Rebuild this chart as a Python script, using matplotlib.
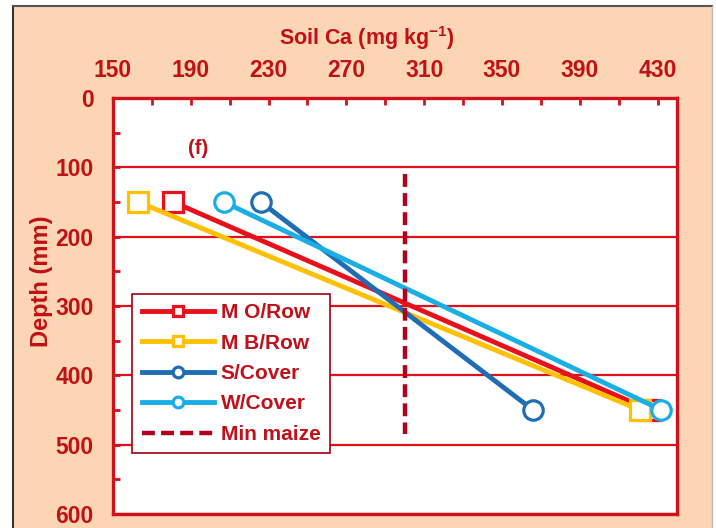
import matplotlib
matplotlib.use("Agg")
import matplotlib.pyplot as plt
from matplotlib.patches import Rectangle
from matplotlib.lines import Line2D

plt.rcParams['font.family'] = ['Liberation Sans', 'DejaVu Sans']
plt.rcParams['mathtext.fontset'] = 'custom'
plt.rcParams['mathtext.rm'] = 'Liberation Sans'
plt.rcParams['mathtext.bf'] = 'Liberation Sans:bold'

# ---- data ----
depth = [150, 450]
series_names = ["M O/Row", "M B/Row", "S/Cover", "W/Cover"]
m_orow = [181, 426]
m_brow = [163, 421]
s_cover = [226, 366]
w_cover = [207, 432]
min_maize_x = [300, 300]
min_maize_depth = [110, 485]
x_ticks_labeled = [150, 190, 230, 270, 310, 350, 390, 430]
x_ticks_minor = [170, 210, 250, 290, 330, 370, 410]
y_ticks = [0, 100, 200, 300, 400, 500, 600]
y_ticks_minor = [50, 150, 250, 350, 450, 550]

TXT = '#C0101A'
SPINE = '#D0101A'

fig = plt.figure(figsize=(7.16, 5.28), dpi=100)
fig.patch.set_facecolor('white')
W, H = 716, 528
fig.add_artist(Rectangle((13 / W, 0), (712 - 13) / W, (H - 6) / H,
                         transform=fig.transFigure, facecolor='#FCD5B4',
                         edgecolor='none', zorder=-10))
fig.add_artist(Line2D([13 / W, 13 / W], [0, 1 - 6 / H], transform=fig.transFigure,
                      color='#333333', lw=1.5))
fig.add_artist(Line2D([13 / W, 712 / W], [1 - 6 / H, 1 - 6 / H], transform=fig.transFigure,
                      color='#555555', lw=1.5))
fig.add_artist(Line2D([712 / W, 712 / W], [0, 1 - 6 / H], transform=fig.transFigure,
                      color='#BBBBBB', lw=1.0))

ax = fig.add_axes([113 / W, (H - 514) / H, 564 / W, 416 / H])
ax.set_facecolor('white')

ax.plot(m_orow, depth, color='#E8101A', lw=3.5, marker='s', ms=14,
        mfc='white', mec='#E8101A', mew=2.3, label=series_names[0], zorder=3)
ax.plot(m_brow, depth, color='#FFC000', lw=3.5, marker='s', ms=14,
        mfc='white', mec='#FFC000', mew=2.3, label=series_names[1], zorder=3)
ax.plot(s_cover, depth, color='#1F6DB4', lw=3.5, marker='o', ms=14,
        mfc='white', mec='#1F6DB4', mew=2.3, label=series_names[2], zorder=3)
ax.plot(w_cover, depth, color='#1AAEE6', lw=3.5, marker='o', ms=14,
        mfc='white', mec='#1AAEE6', mew=2.3, label=series_names[3], zorder=3)
ax.plot(min_maize_x, min_maize_depth, color='#B0001E', lw=3.2,
        ls=(0, (2.9, 1.4)), label='Min maize', zorder=4)

ax.set_xlim(150, 440)
ax.set_ylim(600, 0)

ax.xaxis.tick_top()
ax.xaxis.set_label_position('top')
ax.set_xticks(x_ticks_labeled)
ax.set_xticks(x_ticks_minor, minor=True)
ax.set_yticks(y_ticks)
ax.set_yticks(y_ticks_minor, minor=True)

for which in ('major', 'minor'):
    ax.tick_params(axis='both', which=which, direction='in', length=5, width=2,
                   color=SPINE)
ax.tick_params(axis='x', which='major', pad=11.5, labelsize=16.5, labelcolor=TXT)
ax.tick_params(axis='y', which='major', pad=14, labelsize=16.5, labelcolor=TXT)
for lab in ax.get_xticklabels() + ax.get_yticklabels():
    lab.set_fontweight('bold')

ax.grid(axis='y', which='major', color='#E0101A', lw=1.6, zorder=1)
ax.set_axisbelow(True)
for sp in ax.spines.values():
    sp.set_color(SPINE)
    sp.set_linewidth(2.4)

ax.set_xlabel('Soil Ca (mg kg$^{\\mathbf{-1}}$)', fontsize=15.5, fontweight='bold', color=TXT)
ax.xaxis.set_label_coords(0.45, 1.144)
ax.xaxis.label.set_va('center')
ax.set_ylabel('Depth (mm)', fontsize=17, fontweight='bold', color=TXT)
ax.yaxis.set_label_coords(-0.126, 0.559)
ax.yaxis.label.set_va('center')

ax.text(194, 73, '(f)', fontsize=14.5, fontweight='bold', color=TXT,
        ha='center', va='center')

leg = ax.legend(loc='lower left', bbox_to_anchor=(0.034, 0.146), borderaxespad=0,
                prop={'weight': 'bold', 'size': 15}, labelcolor=TXT,
                handlelength=3.46, handletextpad=0.34, labelspacing=0.55,
                borderpad=0.45, markerscale=0.55, fancybox=False, framealpha=1,
                edgecolor='#A00010')
leg.get_frame().set_linewidth(1.2)
leg.set_zorder(5)

fig.savefig('out.png', dpi=100)
